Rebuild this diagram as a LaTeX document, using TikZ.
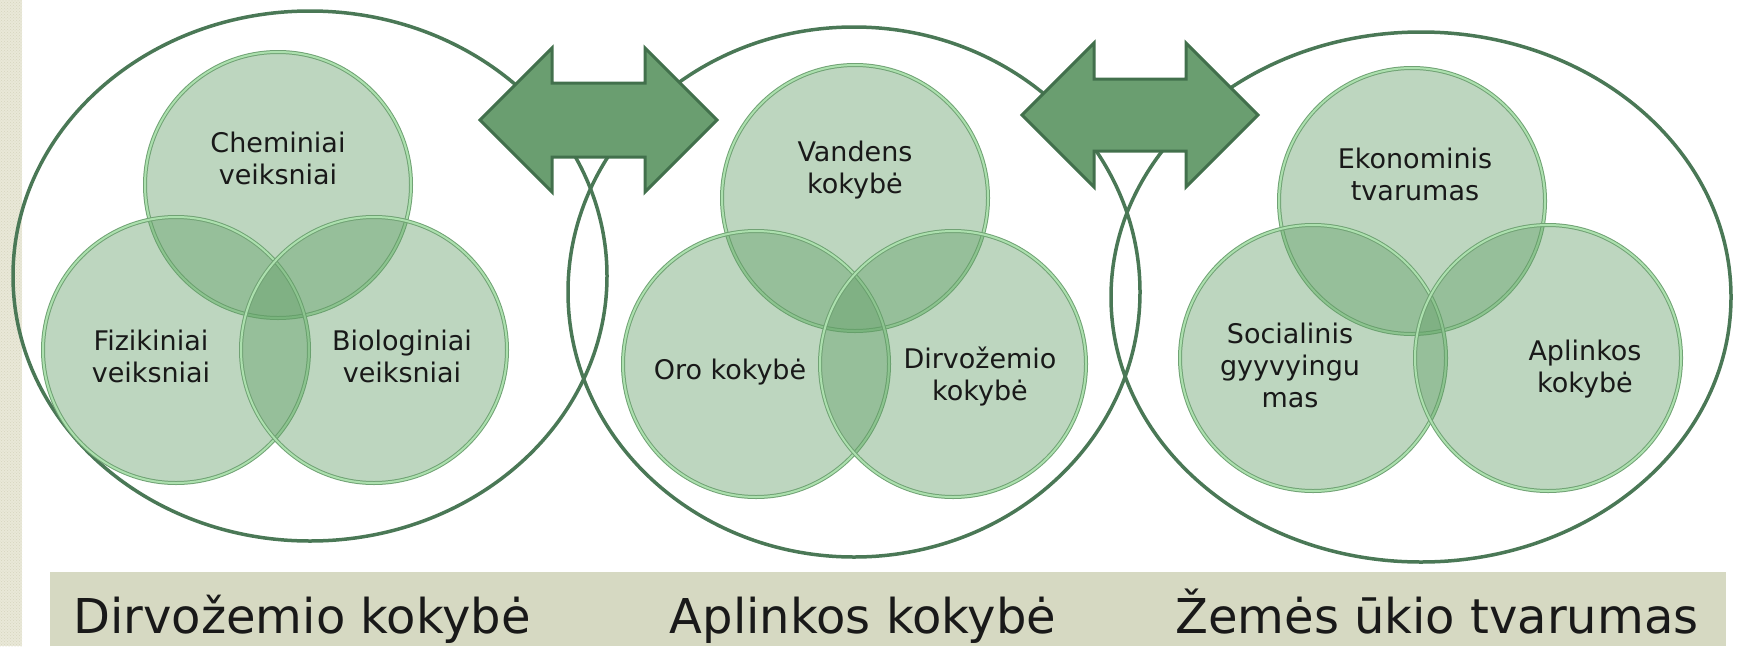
\documentclass[tikz,border=0pt]{standalone}
\usepackage{fontspec}
\setmainfont{DejaVu Sans}
\usetikzlibrary{shapes.geometric,patterns}

\definecolor{ringgreen}{RGB}{74,120,86}
\definecolor{arrowfill}{RGB}{106,158,112}
\definecolor{arrowline}{RGB}{66,112,76}
\definecolor{vennfill}{RGB}{97,158,102}
\definecolor{vennrim}{RGB}{172,224,174}
\definecolor{vennline}{RGB}{112,162,116}
\definecolor{barkhaki}{RGB}{214,217,194}
\definecolor{stripbeige}{RGB}{233,232,216}
\definecolor{stripdots}{RGB}{214,213,190}
\definecolor{inktext}{RGB}{25,25,25}

\tikzset{
  ring/.style={ellipse, draw=ringgreen, line width=3.5pt, inner sep=0pt},
  venn/.style={circle, minimum size=266, inner sep=0pt, fill=vennfill, fill opacity=0.42,
    draw=vennline, line width=1pt, double=vennrim, double distance=2pt},
  venntext/.style={align=center, text=inktext, inner sep=0pt,
    font=\fontsize{27}{32}\selectfont},
  bartext/.style={anchor=base, text=inktext, inner sep=0pt,
    font=\fontsize{48}{56}\selectfont},
  blockarrow/.style={fill=arrowfill, draw=arrowline, line width=3pt, line join=miter}
}

\begin{document}
\begin{tikzpicture}[x=1pt, y=-1pt]
    \useasboundingbox (0,0) rectangle (1740,646);

    % side strip and title bar
    \fill[stripbeige] (0,0) rectangle (22,646);
    \fill[pattern=crosshatch dots, pattern color=stripdots] (0,0) rectangle (22,646);
    \fill[barkhaki] (50,572) rectangle (1726,646);

    % outer rings
    \node[ring, minimum width=594, minimum height=530] (soilring) at (310,276) {};
    \node[ring, minimum width=572, minimum height=530] (envring) at (854,292) {};
    \node[ring, minimum width=620, minimum height=530] (farmring) at (1421,297) {};

    % two-way arrows
    \draw[blockarrow] (480,120) -- (552,48) -- (552,83) -- (645,83) -- (645,48)
        -- (717,120) -- (645,192) -- (645,157) -- (552,157) -- (552,192) -- cycle;
    \draw[blockarrow] (1022,115) -- (1094,43) -- (1094,79) -- (1186,79) -- (1186,43)
        -- (1258,115) -- (1186,187) -- (1186,151) -- (1094,151) -- (1094,187) -- cycle;

    % soil quality
    \node[venn] (chem) at (278,185) {};
    \node[venn] (fiz) at (176,350) {};
    \node[venn] (bio) at (374,350) {};

    \node[venntext] (chemtext) at (278,158) {Cheminiai\\veiksniai};
    \node[venntext] (fiztext) at (151,356) {Fizikiniai\\veiksniai};
    \node[venntext] (biotext) at (402,356) {Biologiniai\\veiksniai};

    % environment quality
    \node[venn] (vand) at (855,198) {};
    \node[venn] (oro) at (756,364) {};
    \node[venn] (dirv) at (953,364) {};

    \node[venntext] (vandtext) at (855,170) {Vandens\\kokybė};
    \node[venntext] (orotext) at (730,372) {Oro kokybė};
    \node[venntext] (dirvtext) at (980,377) {Dirvožemio\\kokybė};

    % farming sustainability
    \node[venn] (eko) at (1412,201) {};
    \node[venn] (soc) at (1313,358) {};
    \node[venn] (apl) at (1548,358) {};

    \node[venntext] (ekotext) at (1415,174) {Ekonominis\\tvarumas};
    \node[venntext] (soctext) at (1290,365) {Socialinis\\gyyvyingu\\mas};
    \node[venntext] (apltext) at (1585,369) {Aplinkos\\kokybė};

    % titles
    \node[bartext] (soiltitle) at (302,633) {Dirvožemio kokybė};
    \node[bartext] (envtitle) at (863,633) {Aplinkos kokybė};
    \node[bartext] (farmtitle) at (1437,633) {Žemės ūkio tvarumas};
\end{tikzpicture}
\end{document}
